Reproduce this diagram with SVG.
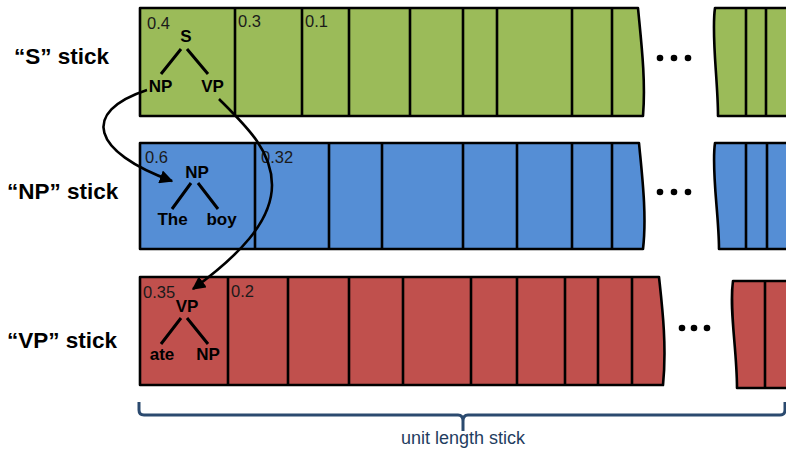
<svg xmlns="http://www.w3.org/2000/svg" width="786" height="450" viewBox="0 0 786 450">
  <style>
    .stick { stroke: #000; stroke-width: 2.6; stroke-linejoin: round; }
    .g { fill: #9BBB59; }
    .b { fill: #558ED5; }
    .r { fill: #C0504D; }
    .div { stroke: #000; stroke-width: 2.6; fill: none; }
    .dot { fill: #000; }
    .prob { font-family: "Liberation Sans", Arial, sans-serif; font-size: 16.5px; fill: #1a1a1a; }
    .tree { font-family: "Liberation Sans", Arial, sans-serif; font-size: 17px; font-weight: bold; fill: #000; }
    .branch { stroke: #000; stroke-width: 3; fill: none; }
    .label { font-family: "Liberation Sans", Arial, sans-serif; font-size: 22.5px; font-weight: bold; fill: #000; }
    .link { stroke: #000; stroke-width: 2.6; fill: none; }
    .brace { stroke: #2B4A6F; stroke-width: 3; fill: none; }
    .caption { font-family: "Liberation Sans", Arial, sans-serif; font-size: 18px; fill: #1F3D5F; }
  </style>
  <defs>
    <marker id="arrow" viewBox="0 0 10 10" refX="9" refY="5" markerWidth="5.2" markerHeight="5.2" orient="auto" markerUnits="strokeWidth">
      <path d="M0,0 L10,5 L0,10 z" fill="#000"/>
    </marker>
  </defs>

  <!-- row labels -->
  <text class="label" x="14" y="64">“S” stick</text>
  <text class="label" x="7" y="199">“NP” stick</text>
  <text class="label" x="7" y="348">“VP” stick</text>

  <!-- S stick -->
  <g id="s-stick">
    <path class="stick g" d="M140,8 H638 C641,40 646,80 643,116 H140 Z"/>
    <path class="stick g" d="M715,8 C711,35 718,80 718,116 H790 V8 Z"/>
    <path class="div" d="M235,8 V116 M302,8 V116 M349,8 V116 M410,8 V116 M463,8 V116 M497,8 V116 M572,8 V116 M612,8 V116 M746,8 V116 M766,8 V116"/>
    <circle class="dot" cx="660" cy="58" r="3.3"/>
    <circle class="dot" cx="674" cy="58" r="3.3"/>
    <circle class="dot" cx="688" cy="58" r="3.3"/>
    <text class="prob" x="147" y="29">0.4</text>
    <text class="prob" x="238" y="27">0.3</text>
    <text class="prob" x="305" y="27">0.1</text>
    <text class="tree" x="186" y="42" text-anchor="middle">S</text>
    <path class="branch" d="M181,49 L161,74 M187,49 L208,74"/>
    <text class="tree" x="160.5" y="92" text-anchor="middle">NP</text>
    <text class="tree" x="212.5" y="92" text-anchor="middle">VP</text>
  </g>

  <!-- NP stick -->
  <g id="np-stick">
    <path class="stick b" d="M140,143 H639 C642,175 647,215 643,249 H140 Z"/>
    <path class="stick b" d="M715,143 C711,170 719,215 719,249 H790 V143 Z"/>
    <path class="div" d="M255,143 V249 M329,143 V249 M382,143 V249 M463,143 V249 M517,143 V249 M572,143 V249 M612,143 V249 M746,143 V249 M767,143 V249"/>
    <circle class="dot" cx="660" cy="192" r="3.3"/>
    <circle class="dot" cx="674" cy="192" r="3.3"/>
    <circle class="dot" cx="688" cy="192" r="3.3"/>
    <text class="prob" x="145" y="163">0.6</text>
    <text class="prob" x="261" y="163">0.32</text>
    <text class="tree" x="197" y="178" text-anchor="middle">NP</text>
    <path class="branch" d="M191,183 L172,209 M198,183 L218,209"/>
    <text class="tree" x="172.5" y="225" text-anchor="middle">The</text>
    <text class="tree" x="221.5" y="225" text-anchor="middle">boy</text>
  </g>

  <!-- VP stick -->
  <g id="vp-stick">
    <path class="stick r" d="M140,277 H659 C662,305 667,345 663,385 H140 Z"/>
    <path class="stick r" d="M733,281 C729,310 737,350 737,388 H790 V281 Z"/>
    <path class="div" d="M228,277 V385 M288,277 V385 M349,277 V385 M403,277 V385 M471,277 V385 M517,277 V385 M565,277 V385 M598,277 V385 M632,277 V385 M765,281 V388"/>
    <circle class="dot" cx="682" cy="328" r="3.3"/>
    <circle class="dot" cx="694" cy="328" r="3.3"/>
    <circle class="dot" cx="707" cy="328" r="3.3"/>
    <text class="prob" x="143" y="298">0.35</text>
    <text class="prob" x="231" y="297">0.2</text>
    <text class="tree" x="187" y="312" text-anchor="middle">VP</text>
    <path class="branch" d="M181,318 L161,344 M187,318 L208,344"/>
    <text class="tree" x="162" y="360" text-anchor="middle">ate</text>
    <text class="tree" x="208" y="360" text-anchor="middle">NP</text>
  </g>

  <!-- expansion links between sticks -->
  <g id="connectors">
    <path class="link" marker-end="url(#arrow)" d="M147,90 C80,112 92,152 172,181"/>
    <path class="link" marker-end="url(#arrow)" d="M219,99 C245,125 272,150 272,185 C272,222 238,256 193,289"/>
  </g>

  <!-- unit length brace -->
  <g id="unit-brace">
    <path class="brace" d="M139,402 V410 Q139,415 144,415 H458 Q463,415 463,421 V431 M463,421 Q463,415 468,415 H780 Q785,415 785,410 V402"/>
    <text class="caption" x="463" y="444" text-anchor="middle">unit length stick</text>
  </g>
</svg>
